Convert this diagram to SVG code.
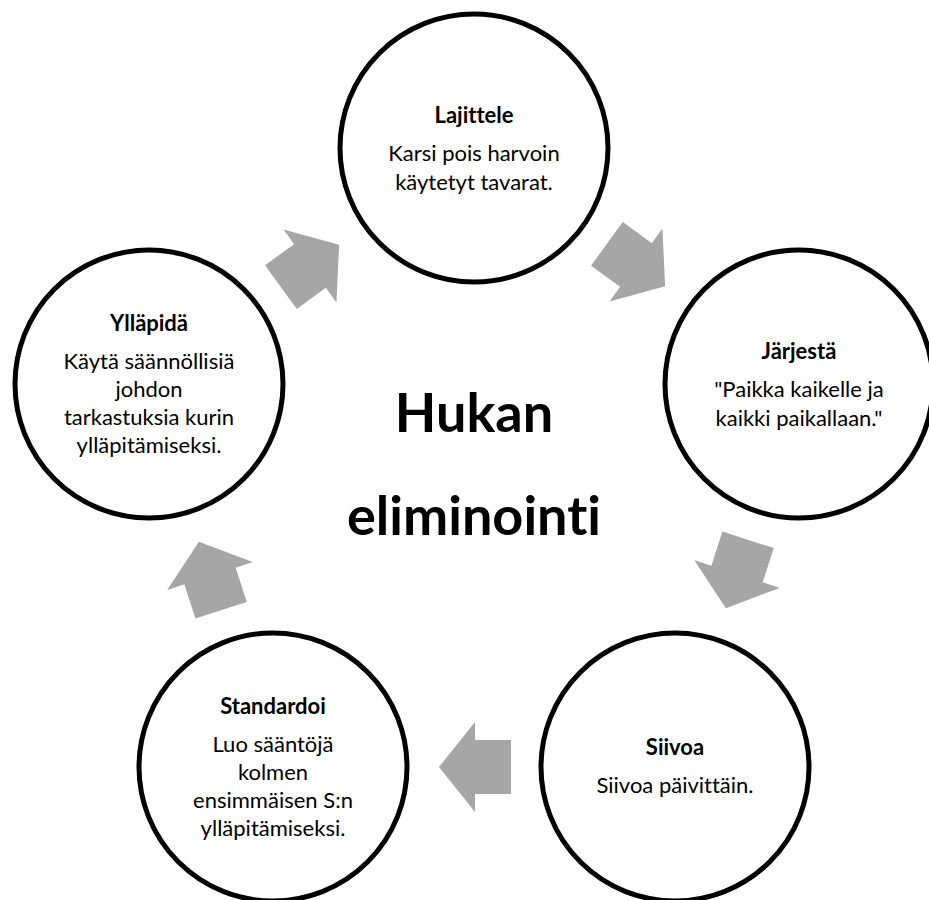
<svg xmlns="http://www.w3.org/2000/svg" xmlns:xlink="http://www.w3.org/1999/xlink" width="929" height="900" viewBox="0 0 929 900">
  <style>
    text { font-variant-ligatures: none; }
    .node { fill: #FFFFFF; stroke: #000000; stroke-width: 5; }
    .ttl { font-family: Lato, "Open Sans", sans-serif; font-weight: bold; font-size: 22px; fill: #000; text-anchor: middle; }
    .txt { font-family: Lato, "Open Sans", sans-serif; font-size: 22px; fill: #000; text-anchor: middle; }
    .big { font-family: Lato, "Open Sans", sans-serif; font-weight: bold; font-size: 54px; fill: #000; text-anchor: middle; }
    .arr { fill: #A6A6A6; }
  </style>
  <defs>
    <path id="arrow" d="M-36,-27 L0,-27 L0,-45 L36,0 L0,45 L0,27 L-36,27 Z"/>
  </defs>
  <rect width="929" height="900" fill="#FFFFFF"/>

  <g id="connectors" class="arr">
    <use xlink:href="#arrow" href="#arrow" transform="translate(636,265) rotate(36)"/>
    <use xlink:href="#arrow" href="#arrow" transform="translate(737,574) rotate(108)"/>
    <use xlink:href="#arrow" href="#arrow" transform="translate(475,767) rotate(180)"/>
    <use xlink:href="#arrow" href="#arrow" transform="translate(210,576) rotate(252)"/>
    <use xlink:href="#arrow" href="#arrow" transform="translate(310,266) rotate(324)"/>
  </g>

  <g id="center-title">
    <text class="big" x="474" y="432">Hukan</text>
    <text class="big" x="474" y="535">eliminointi</text>
  </g>

  <g id="node-lajittele">
    <circle class="node" cx="474" cy="148" r="134"/>
    <text class="ttl" x="474" y="123">Lajittele</text>
    <text class="txt" x="474" y="161">Karsi pois harvoin</text>
    <text class="txt" x="474" y="190">käytetyt tavarat.</text>
  </g>

  <g id="node-jarjesta">
    <circle class="node" cx="799" cy="384" r="134"/>
    <text class="ttl" x="799" y="359">Järjestä</text>
    <text class="txt" x="799" y="397">"Paikka kaikelle ja</text>
    <text class="txt" x="799" y="426">kaikki paikallaan."</text>
  </g>

  <g id="node-siivoa">
    <circle class="node" cx="675" cy="767" r="134"/>
    <text class="ttl" x="675" y="755">Siivoa</text>
    <text class="txt" x="675" y="793">Siivoa päivittäin.</text>
  </g>

  <g id="node-standardoi">
    <circle class="node" cx="273" cy="767" r="134"/>
    <text class="ttl" x="273" y="714">Standardoi</text>
    <text class="txt" x="273" y="752">Luo sääntöjä</text>
    <text class="txt" x="273" y="780">kolmen</text>
    <text class="txt" x="273" y="808">ensimmäisen S:n</text>
    <text class="txt" x="273" y="836">ylläpitämiseksi.</text>
  </g>

  <g id="node-yllapida">
    <circle class="node" cx="149" cy="384" r="134"/>
    <text class="ttl" x="149" y="331">Ylläpidä</text>
    <text class="txt" x="149" y="369">Käytä säännöllisiä</text>
    <text class="txt" x="149" y="397">johdon</text>
    <text class="txt" x="149" y="425">tarkastuksia kurin</text>
    <text class="txt" x="149" y="453">ylläpitämiseksi.</text>
  </g>
</svg>
